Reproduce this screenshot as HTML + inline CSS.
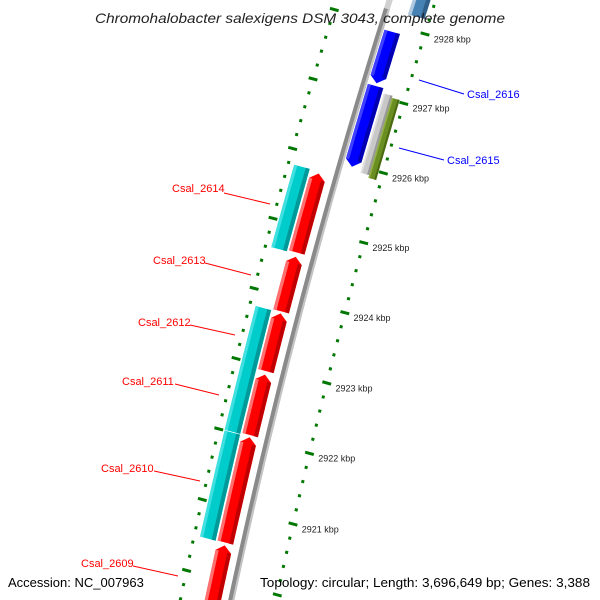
<!DOCTYPE html>
<html><head><meta charset="utf-8"><style>
html,body{margin:0;padding:0;background:#fff;width:600px;height:600px;overflow:hidden;}
svg{display:block;}
text{font-family:"Liberation Sans","DejaVu Sans",sans-serif;}
</style></head><body>
<svg id="map" width="600" height="600" viewBox="0 0 600 600" xmlns="http://www.w3.org/2000/svg">
<rect x="0" y="0" width="600" height="600" fill="#fff"/>
<g id="rings"></g>
<g id="backbone"></g>
<g id="genes"></g>
<g id="ticklabels"></g>
<g font-size="11">
 <line x1="224" y1="193" x2="270" y2="204" stroke="#ff0000"/>
 <text x="172" y="192" fill="#ff0000">Csal_2614</text>
 <line x1="205" y1="263" x2="251" y2="275" stroke="#ff0000"/>
 <text x="153" y="264" fill="#ff0000">Csal_2613</text>
 <line x1="190" y1="325" x2="235" y2="335" stroke="#ff0000"/>
 <text x="138" y="326" fill="#ff0000">Csal_2612</text>
 <line x1="175" y1="384" x2="219" y2="395" stroke="#ff0000"/>
 <text x="122" y="385" fill="#ff0000">Csal_2611</text>
 <line x1="154" y1="471" x2="200" y2="481" stroke="#ff0000"/>
 <text x="101" y="472" fill="#ff0000">Csal_2610</text>
 <line x1="133" y1="566" x2="178" y2="576" stroke="#ff0000"/>
 <text x="81" y="567" fill="#ff0000">Csal_2609</text>
 <line x1="419" y1="80" x2="464" y2="94" stroke="#0000ff"/>
 <text x="467" y="98" fill="#0000ff">Csal_2616</text>
 <line x1="399" y1="148" x2="444" y2="160" stroke="#0000ff"/>
 <text x="447" y="164" fill="#0000ff">Csal_2615</text>
</g>
<text x="95" y="23" textLength="410" lengthAdjust="spacingAndGlyphs" font-size="14" font-style="italic" fill="#222">Chromohalobacter salexigens DSM 3043, complete genome</text>
<text x="8" y="587" font-size="13" fill="#000">Accession: NC_007963</text>
<text x="260" y="587" textLength="330" lengthAdjust="spacingAndGlyphs" font-size="13" fill="#000">Topology: circular; Length: 3,696,649 bp; Genes: 3,388</text>
</svg>
<script>
const geneNames=["Csal_2617a","Csal_2617b","Csal_2616","Csal_2615","gene_gray","gene_olive","Csal_2614","Csal_2614c","Csal_2613","Csal_2612c","Csal_2612","Csal_2611","Csal_2610","Csal_2610c","Csal_2609"];
const geneStart=[2928.45,2928.2,2927.17,2925.97,2925.92,2925.88,2924.63,2924.61,2923.79,2922.01,2922.94,2922.03,2920.51,2920.5,2919.6];
const geneEnd=[2929.5,2929.5,2927.91,2927.13,2927.06,2927.03,2925.76,2925.79,2924.57,2923.77,2923.76,2922.89,2922.0,2922.0,2920.47];
const geneTrack=["blue","steel","blue","blue","gray","olive","red","cyan","red","cyan","red","red","red","cyan","red"];
const majorTicks=[2921,2922,2923,2924,2925,2926,2927,2928];
const tickLabels=["2921 kbp","2922 kbp","2923 kbp","2924 kbp","2925 kbp","2926 kbp","2927 kbp","2928 kbp"];

const NS="http://www.w3.org/2000/svg";
function P(k,off){
  const u=(2928-k)/7;
  const bow=4*u*(1-u)*5;
  const x=425-132*u-0.965*bow+0.965*off;
  const y=34+490*u-0.26*bow+0.26*off;
  return [x,y];
}
function pts(a){return a.map(p=>p[0].toFixed(1)+","+p[1].toFixed(1)).join(" ");}
const tracks={
 red:{o1:-70,o2:-54,fill:"#ff0000",hi:"#ff7070",lo:"#c00000",dir:1},
 cyan:{o1:-88,o2:-72,fill:"#00cccc",hi:"#40e0e0",lo:"#009999",dir:0},
 blue:{o1:-40,o2:-24,fill:"#0000ff",hi:"#4040ff",lo:"#0000b0",dir:-1},
 gray:{o1:-22,o2:-13,fill:"#c8c8c8",hi:"#e0e0e0",lo:"#999",dir:0},
 olive:{o1:-13,o2:-5,fill:"#6b8e23",hi:"#8fb040",lo:"#4a6a10",dir:0},
 steel:{o1:-22,o2:-5,fill:"#4682b4",hi:"#b0c8e0",lo:"#30608a",dir:0}
};
const rings=document.getElementById("rings");
function tickMark(k,off,major){
  const c=P(k,off);
  const r=document.createElementNS(NS,"polygon");
  const L=major?4.5:1.5,W=1.5;
  const a=[[c[0]-0.965*L+0.26*W,c[1]-0.26*L-0.965*W],[c[0]+0.965*L+0.26*W,c[1]+0.26*L-0.965*W],[c[0]+0.965*L-0.26*W,c[1]+0.26*L+0.965*W],[c[0]-0.965*L-0.26*W,c[1]-0.26*L+0.965*W]];
  r.setAttribute("points",pts(a));
  r.setAttribute("fill","#007700");
  
  
  rings.appendChild(r);
}
for(let i=0;i<=60;i++){
  const k=2918.6+i*0.2;
  const major=Math.abs(k-Math.round(k))<0.01;
  tickMark(k,0,major);
  tickMark(k,-94,major);
}
const bb=document.getElementById("backbone");
function band(k1,k2,o1,o2,fill,name){
  const a=[],b=[];
  for(let i=0;i<=20;i++){const k=k1+(k2-k1)*i/20;a.push(P(k,o1));b.unshift(P(k,o2));}
  const p=document.createElementNS(NS,"polygon");
  p.setAttribute("points",pts(a.concat(b)));
  p.setAttribute("fill",fill);
  
  
  return p;
}
bb.appendChild(band(2919,2928.2,-47,-41,"#8a8a8a","backbone-line"));
bb.appendChild(band(2919,2928.2,-43,-41,"#c4c4c4","backbone-highlight"));
bb.appendChild(band(2928.2,2929.5,-47,-41,"#d0d0d0","backbone-light"));
const gg=document.getElementById("genes");
for(let i=0;i<geneNames.length;i++){
  const t=tracks[geneTrack[i]];
  const s=geneStart[i],e=geneEnd[i],h=0.09;
  const mid=(t.o1+t.o2)/2;
  let shape;
  if(t.dir===1){
    shape=[P(s,t.o1),P(e-h,t.o1),P(e,mid),P(e-h,t.o2),P(s,t.o2)];
  }else if(t.dir===-1){
    shape=[P(e,t.o1),P(s+h,t.o1),P(s,mid),P(s+h,t.o2),P(e,t.o2)];
  }else{
    shape=[P(s,t.o1),P(e,t.o1),P(e,t.o2),P(s,t.o2)];
  }
  const g=document.createElementNS(NS,"g");
  
  
  const p=document.createElementNS(NS,"polygon");
  p.setAttribute("points",pts(shape));
  p.setAttribute("fill",t.fill);
  
  
  g.appendChild(p);
  const w=t.o2-t.o1;
  g.appendChild(band(s+(t.dir===-1?h:0),e-(t.dir===1?h:0),t.o2-w*0.25,t.o2,t.lo,"gene-shade"));
  g.appendChild(band(s+(t.dir===-1?h:0),e-(t.dir===1?h:0),t.o1,t.o1+w*0.2,t.hi,"gene-highlight"));
  gg.appendChild(g);
}
const tl=document.getElementById("ticklabels");
for(let i=0;i<majorTicks.length;i++){
  const c=P(majorTicks[i],9);
  const t=document.createElementNS(NS,"text");
  t.setAttribute("x",c[0].toFixed(1));
  t.setAttribute("y",(c[1]+6).toFixed(1));
  t.setAttribute("font-size","9");
  t.setAttribute("fill","#222");
  
  
  t.textContent=tickLabels[i];
  tl.appendChild(t);
}
</script>
</body></html>
